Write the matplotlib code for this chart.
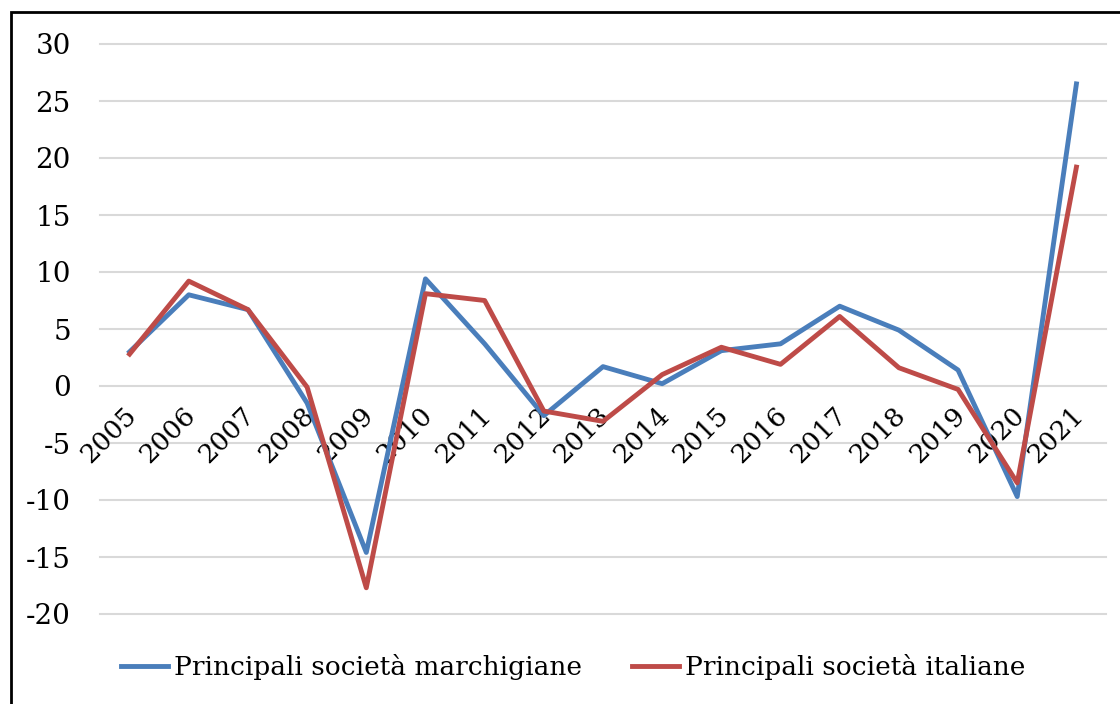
import matplotlib
matplotlib.use("Agg")
import matplotlib.pyplot as plt
from matplotlib.patches import Rectangle

years = ["2005", "2006", "2007", "2008", "2009", "2010", "2011", "2012", "2013",
         "2014", "2015", "2016", "2017", "2018", "2019", "2020", "2021"]
marchigiane = [3.0, 8.0, 6.7, -1.5, -14.6, 9.4, 3.7, -2.6, 1.7,
               0.2, 3.1, 3.7, 7.0, 4.9, 1.4, -9.7, 26.5]
italiane = [2.8, 9.2, 6.7, -0.1, -17.7, 8.1, 7.5, -2.2, -3.1,
            1.0, 3.4, 1.9, 6.1, 1.6, -0.3, -8.5, 19.2]
yticks = [-20, -15, -10, -5, 0, 5, 10, 15, 20, 25, 30]

plt.rcParams['font.family'] = ['DejaVu Serif']

W, H = 1120, 704
fig = plt.figure(figsize=(W / 100, H / 100), dpi=100)
ax = fig.add_axes([100 / W, 1 - 614 / H, 1006 / W, 570 / H])

x = list(range(len(years)))
ax.plot(x, marchigiane, color='#4a7ebb', lw=3.5, label='Principali società marchigiane', zorder=3)
ax.plot(x, italiane, color='#be4b48', lw=3.5, label='Principali società italiane', zorder=3)

ax.set_xlim(-0.5, len(years) - 0.5)
ax.set_ylim(-20, 30)
ax.set_yticks(yticks)
ax.set_yticklabels([str(v) for v in yticks], fontsize=20)
ax.tick_params(axis='y', length=0, pad=21)
ax.set_xticks([])
ax.grid(axis='y', color='#d9d9d9', lw=1.5)
for gl in ax.get_ygridlines():
    gl.set_clip_on(False)
ax.set_axisbelow(True)
for s in ax.spines.values():
    s.set_visible(False)

# category labels sit at the zero line, rotated like Excel does
for i, yr in enumerate(years):
    ax.text(i - 0.1, -1.4, yr, rotation=45, rotation_mode='anchor',
            ha='right', va='top', fontsize=19, zorder=2)

fig.legend(loc='center', bbox_to_anchor=(573 / W, 1 - 667 / H), ncol=2,
           frameon=False, fontsize=19, handlelength=1.8, handletextpad=0.2,
           columnspacing=1.9)

fig.patches.append(Rectangle((11 / W, -0.1), 1.2, 1 - 12 / H + 0.1,
                             transform=fig.transFigure, fill=False,
                             edgecolor='black', lw=2))

fig.savefig('out.png', dpi=100)
